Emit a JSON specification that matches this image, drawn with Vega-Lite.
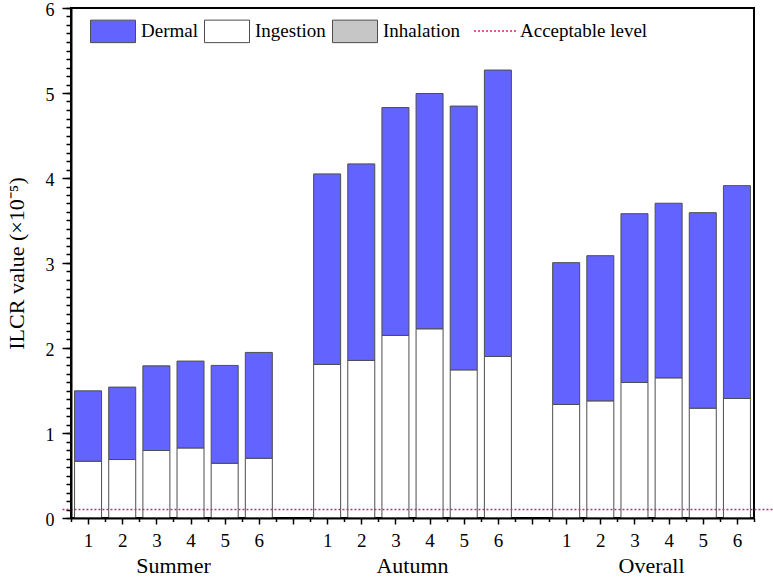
{
  "$schema": "https://vega.github.io/schema/vega-lite/v6.json",
  "width": 683,
  "height": 510,
  "autosize": "none",
  "padding": {"left": 71, "top": 8, "right": 19, "bottom": 59},
  "background": "white",
  "config": {
    "font": "Liberation Serif",
    "view": {"stroke": "black", "strokeWidth": 2},
    "axis": {"labelColor": "black", "titleColor": "black", "tickColor": "black", "domainColor": "black"}
  },
  "data": {
    "values": [
      {"season": "Summer", "idx": 1, "route": "Ingestion", "value": 0.668},
      {"season": "Summer", "idx": 2, "route": "Ingestion", "value": 0.688},
      {"season": "Summer", "idx": 3, "route": "Ingestion", "value": 0.794},
      {"season": "Summer", "idx": 4, "route": "Ingestion", "value": 0.824},
      {"season": "Summer", "idx": 5, "route": "Ingestion", "value": 0.644},
      {"season": "Summer", "idx": 6, "route": "Ingestion", "value": 0.703},
      {"season": "Summer", "idx": 1, "route": "Dermal", "value": 0.828},
      {"season": "Summer", "idx": 2, "route": "Dermal", "value": 0.852},
      {"season": "Summer", "idx": 3, "route": "Dermal", "value": 0.996},
      {"season": "Summer", "idx": 4, "route": "Dermal", "value": 1.022},
      {"season": "Summer", "idx": 5, "route": "Dermal", "value": 1.151},
      {"season": "Summer", "idx": 6, "route": "Dermal", "value": 1.245},
      {"season": "Autumn", "idx": 1, "route": "Ingestion", "value": 1.807},
      {"season": "Autumn", "idx": 2, "route": "Ingestion", "value": 1.854},
      {"season": "Autumn", "idx": 3, "route": "Ingestion", "value": 2.148},
      {"season": "Autumn", "idx": 4, "route": "Ingestion", "value": 2.226},
      {"season": "Autumn", "idx": 5, "route": "Ingestion", "value": 1.743},
      {"season": "Autumn", "idx": 6, "route": "Ingestion", "value": 1.901},
      {"season": "Autumn", "idx": 1, "route": "Dermal", "value": 2.241},
      {"season": "Autumn", "idx": 2, "route": "Dermal", "value": 2.312},
      {"season": "Autumn", "idx": 3, "route": "Dermal", "value": 2.681},
      {"season": "Autumn", "idx": 4, "route": "Dermal", "value": 2.768},
      {"season": "Autumn", "idx": 5, "route": "Dermal", "value": 3.103},
      {"season": "Autumn", "idx": 6, "route": "Dermal", "value": 3.369},
      {"season": "Overall", "idx": 1, "route": "Ingestion", "value": 1.336},
      {"season": "Overall", "idx": 2, "route": "Ingestion", "value": 1.378},
      {"season": "Overall", "idx": 3, "route": "Ingestion", "value": 1.595},
      {"season": "Overall", "idx": 4, "route": "Ingestion", "value": 1.649},
      {"season": "Overall", "idx": 5, "route": "Ingestion", "value": 1.292},
      {"season": "Overall", "idx": 6, "route": "Ingestion", "value": 1.406},
      {"season": "Overall", "idx": 1, "route": "Dermal", "value": 1.668},
      {"season": "Overall", "idx": 2, "route": "Dermal", "value": 1.708},
      {"season": "Overall", "idx": 3, "route": "Dermal", "value": 1.985},
      {"season": "Overall", "idx": 4, "route": "Dermal", "value": 2.054},
      {"season": "Overall", "idx": 5, "route": "Dermal", "value": 2.3},
      {"season": "Overall", "idx": 6, "route": "Dermal", "value": 2.504}
    ]
  },
  "transform": [
    {"calculate": "datum.idx + (datum.season === 'Autumn' ? 7 : datum.season === 'Overall' ? 14 : 0)", "as": "pos"},
    {"calculate": "datum.route === 'Ingestion' ? 0 : 1", "as": "ord"}
  ],
  "resolve": {"axis": {"x": "independent", "y": "independent"}},
  "layer": [
    {
      "mark": {"type": "bar", "size": 27, "stroke": "#4d4d4d", "strokeWidth": 1},
      "encoding": {
        "x": {
          "field": "pos",
          "type": "quantitative",
          "scale": {"domain": [0.5, 20.5], "nice": false, "zero": false, "padding": 0},
          "axis": {
            "orient": "bottom",
            "zindex": 1,
            "title": null,
            "grid": false,
            "values": [1, 2, 3, 4, 5, 6, 7, 8, 9, 10, 11, 12, 13, 14, 15, 16, 17, 18, 19, 20],
            "domainWidth": 2,
            "tickWidth": 1.5,
            "tickSize": 6,
            "labelExpr": "(datum.value === 7 || datum.value === 14) ? '' : ('' + (datum.value <= 6 ? datum.value : datum.value <= 13 ? datum.value - 7 : datum.value - 14))",
            "labelFontSize": 19,
            "labelPadding": 7,
            "labelOverlap": false,
            "labelFlush": false
          }
        },
        "y": {
          "field": "value",
          "type": "quantitative",
          "stack": "zero",
          "scale": {"domain": [0, 6], "nice": false},
          "axis": {
            "orient": "left",
            "zindex": 1,
            "title": "ILCR value (×10⁻⁵)",
            "titleFontSize": 22,
            "titleFontWeight": "normal",
            "titlePadding": 17,
            "grid": false,
            "values": [0, 1, 2, 3, 4, 5, 6],
            "format": "d",
            "domainWidth": 2,
            "tickWidth": 1.5,
            "tickSize": 9,
            "labelFontSize": 18,
            "labelPadding": 8,
            "labelOffset": 2.5,
            "labelOverlap": false,
            "labelFlush": false
          }
        },
        "fill": {
          "field": "route",
          "type": "nominal",
          "scale": {"domain": ["Dermal", "Ingestion", "Inhalation"], "range": ["#6363ff", "#ffffff", "#c6c6c6"]},
          "legend": {
            "orient": "none",
            "legendX": 19,
            "legendY": 0,
            "direction": "horizontal",
            "title": null,
            "symbolType": "M-1,-0.5H1V0.5H-1Z",
            "symbolSize": 2025,
            "symbolStrokeColor": "#4d4d4d",
            "symbolStrokeWidth": 1,
            "symbolOpacity": 1,
            "labelFontSize": 19,
            "labelColor": "black",
            "labelOffset": 5,
            "columnPadding": 4,
            "padding": 0
          }
        },
        "order": {"field": "ord", "type": "quantitative"}
      }
    },
    {
      "transform": [{"aggregate": [{"op": "mean", "field": "pos", "as": "center"}], "groupby": ["season"]}],
      "mark": {"type": "text", "fontSize": 22, "baseline": "alphabetic", "dy": 55, "color": "black"},
      "encoding": {
        "x": {"field": "center", "type": "quantitative", "axis": null},
        "y": {"datum": 0, "axis": null},
        "text": {"field": "season"}
      }
    },
    {
      "data": {"values": [{"label": "Acceptable level", "level": 0.1}]},
      "transform": [],
      "mark": {"type": "rule", "strokeDash": [2, 2], "strokeWidth": 1.5, "clip": false},
      "encoding": {
        "y": {
          "field": "level",
          "type": "quantitative",
          "axis": {
            "orient": "left",
            "title": null,
            "grid": false,
            "domain": false,
            "labels": false,
            "tickWidth": 1.5,
            "tickSize": 5,
            "values": [0, 0.1, 0.2, 0.3, 0.4, 0.5, 0.6, 0.7, 0.8, 0.9, 1, 1.1, 1.2, 1.3, 1.4, 1.5, 1.6, 1.7, 1.8, 1.9, 2, 2.1, 2.2, 2.3, 2.4, 2.5, 2.6, 2.7, 2.8, 2.9, 3, 3.1, 3.2, 3.3, 3.4, 3.5, 3.6, 3.7, 3.8, 3.9, 4, 4.1, 4.2, 4.3, 4.4, 4.5, 4.6, 4.7, 4.8, 4.9, 5, 5.1, 5.2, 5.3, 5.4, 5.5, 5.6, 5.7, 5.8, 5.9, 6]
          }
        },
        "x": {
          "datum": 0.25,
          "axis": {
            "orient": "bottom",
            "title": null,
            "grid": false,
            "domain": false,
            "labels": false,
            "tickWidth": 1.5,
            "tickSize": 3.5,
            "values": [0.5, 1.5, 2.5, 3.5, 4.5, 5.5, 6.5, 7.5, 8.5, 9.5, 10.5, 11.5, 12.5, 13.5, 14.5, 15.5, 16.5, 17.5, 18.5, 19.5, 20.5]
          }
        },
        "x2": {"datum": 21.1},
        "stroke": {
          "field": "label",
          "type": "nominal",
          "scale": {"range": ["#e8186d"]},
          "legend": {
            "orient": "none",
            "legendX": 402,
            "legendY": 0,
            "title": null,
            "symbolType": "stroke",
            "symbolSize": 1936,
            "symbolDash": [2, 2],
            "symbolStrokeWidth": 1.5,
            "labelFontSize": 19,
            "labelColor": "black",
            "labelOffset": 1,
            "padding": 0
          }
        }
      }
    }
  ]
}
